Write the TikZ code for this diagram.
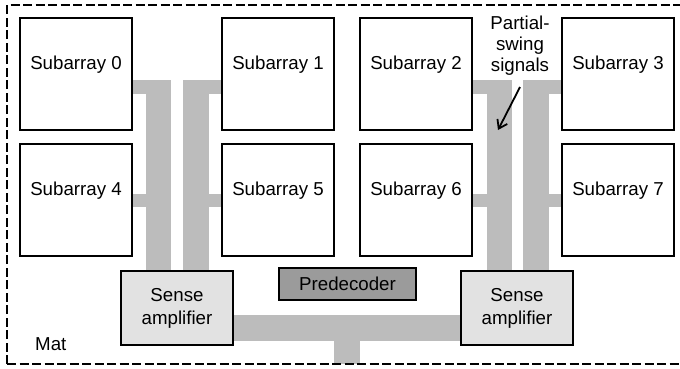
\documentclass[tikz,border=0pt]{standalone}
\usepackage{fontspec}
\setmainfont{Liberation Sans}
\usetikzlibrary{arrows.meta}
\definecolor{busgray}{HTML}{BCBCBC}
\definecolor{senseFill}{HTML}{E2E2E2}
\definecolor{predFill}{HTML}{9B9B9B}
\tikzset{
  subarr/.style={draw=black, line width=2pt, fill=white, inner sep=0pt,
    minimum width=112pt, text height=51pt, text depth=61pt,
    font=\fontsize{18.7}{22}\selectfont},
  senseamp/.style={draw=black, line width=2pt, fill=senseFill, inner sep=0pt,
    minimum width=112pt, minimum height=74pt, align=center,
    font=\fontsize{18.7}{23}\selectfont},
  predec/.style={draw=black, line width=2pt, fill=predFill, inner sep=0pt,
    minimum width=137pt, minimum height=32pt,
    font=\fontsize{18.7}{22}\selectfont},
  bus/.style={fill=busgray, draw=none},
  plain/.style={inner sep=0pt, font=\fontsize{18.7}{21}\selectfont, align=center},
  matedge/.style={line width=2.4pt, dash pattern=on 9pt off 3.5pt}
}
\begin{document}
\begin{tikzpicture}[x=1pt, y=-1pt]
\useasboundingbox (0,0) rectangle (680,368);

% signal buses (drawn first, boxes sit on top)
% left pair
\fill[bus] (146,80) rectangle (171,272);
\fill[bus] (183,80) rectangle (209,272);
\fill[bus] (130,80) rectangle (146,94);
\fill[bus] (209,80) rectangle (224,94);
\fill[bus] (130,194) rectangle (146,207);
\fill[bus] (209,194) rectangle (224,207);
% right pair
\fill[bus] (487,80) rectangle (512,272);
\fill[bus] (523,80) rectangle (549,272);
\fill[bus] (470,80) rectangle (487,94);
\fill[bus] (549,80) rectangle (564,94);
\fill[bus] (470,194) rectangle (487,207);
\fill[bus] (549,194) rectangle (564,207);
% bottom bus between sense amplifiers and the mat output
\fill[bus] (230,315) rectangle (464,341);
\fill[bus] (334,340) rectangle (360,364);

% mat boundary
\draw[matedge] (7,364) -- (7,5) -- (700,5);
\draw[matedge] (7,364) -- (700,364);

% subarrays
\node[subarr] (s0) at (76,74)  {Subarray 0};
\node[subarr] (s1) at (278,74) {Subarray 1};
\node[subarr] (s2) at (416,74) {Subarray 2};
\node[subarr] (s3) at (618,74) {Subarray 3};
\node[subarr] (s4) at (76,200)  {Subarray 4};
\node[subarr] (s5) at (278,200) {Subarray 5};
\node[subarr] (s6) at (416,200) {Subarray 6};
\node[subarr] (s7) at (618,200) {Subarray 7};

% sense amplifiers and predecoder
\node[senseamp] (sa1) at (177,308) {Sense\\amplifier};
\node[senseamp] (sa2) at (517,308) {Sense\\amplifier};
\node[predec] (pd) at (347.5,284) {Predecoder};

% labels
\node[plain] (psw) at (520,45.3) {Partial-\\swing\\signals};
\coordinate (pswtail) at (520,87);
\coordinate (pswhead) at (498,130);
\draw[line width=1.8pt, -{Straight Barb[length=8pt,width=11pt]}] (pswtail) -- (pswhead);
\node[plain, anchor=base west] (mat) at (35,350) {Mat};
\end{tikzpicture}
\end{document}
